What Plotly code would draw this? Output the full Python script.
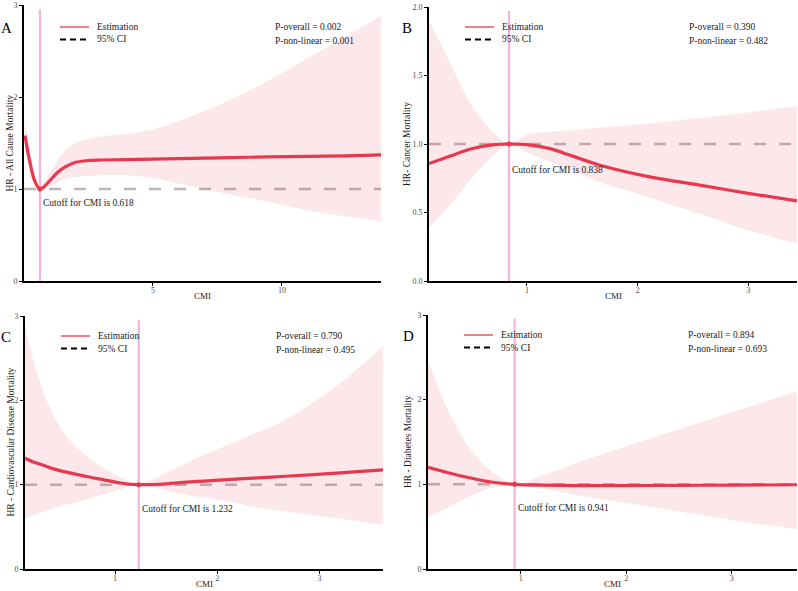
import plotly.graph_objects as go

FONT = "Liberation Serif, Times New Roman, DejaVu Serif, serif"

# ---------------- data ----------------
# Panel A: All cause mortality
a_x   = [0.04, 0.2, 0.4, 0.618, 0.8, 1.0, 1.3, 1.6, 2.0, 2.5, 3.0, 4.0, 5.0, 6.0, 7.0, 8.0, 9.5, 11.0, 12.5, 13.84]
a_est = [1.58, 1.33, 1.10, 1.00, 1.03, 1.09, 1.18, 1.24, 1.29, 1.31, 1.315, 1.32, 1.325, 1.33, 1.335, 1.34, 1.35, 1.355, 1.36, 1.37]
a_lo  = [1.42, 1.23, 1.05, 1.00, 1.00, 1.03, 1.08, 1.11, 1.13, 1.14, 1.15, 1.15, 1.12, 1.06, 1.00, 0.94, 0.86, 0.77, 0.70, 0.65]
a_hi  = [1.76, 1.45, 1.16, 1.00, 1.07, 1.17, 1.31, 1.42, 1.50, 1.54, 1.57, 1.60, 1.65, 1.74, 1.85, 1.97, 2.18, 2.42, 2.66, 2.88]

# Panel B: Cancer mortality
b_x   = [0.115, 0.3, 0.5, 0.7, 0.838, 1.0, 1.21, 1.4, 1.66, 2.11, 2.56, 3.0, 3.44]
b_est = [0.857, 0.91, 0.965, 0.995, 1.00, 0.995, 0.966, 0.915, 0.845, 0.76, 0.70, 0.64, 0.584]
b_lo  = [0.39, 0.55, 0.75, 0.92, 1.00, 0.94, 0.87, 0.81, 0.72, 0.61, 0.49, 0.37, 0.275]
b_hi  = [1.90, 1.60, 1.28, 1.08, 1.00, 1.07, 1.09, 1.10, 1.12, 1.15, 1.19, 1.23, 1.275]

# Panel C: Cardiovascular disease mortality
c_x   = [0.12, 0.2, 0.30, 0.39, 0.48, 0.56, 0.72, 0.88, 1.05, 1.232, 1.5, 1.7, 2.1, 2.35, 2.67, 3.2, 3.62]
c_est = [1.315, 1.27, 1.23, 1.19, 1.16, 1.14, 1.097, 1.06, 1.02, 1.00, 1.01, 1.03, 1.06, 1.078, 1.10, 1.14, 1.176]
c_lo  = [0.60, 0.64, 0.68, 0.72, 0.75, 0.77, 0.82, 0.88, 0.95, 1.00, 0.93, 0.88, 0.80, 0.74, 0.68, 0.60, 0.525]
c_hi  = [2.90, 2.48, 2.10, 1.84, 1.65, 1.52, 1.34, 1.20, 1.09, 1.00, 1.14, 1.26, 1.47, 1.60, 1.77, 2.20, 2.64]

# Panel D: Diabetes mortality
d_x   = [0.119, 0.3, 0.5, 0.7, 0.941, 1.2, 1.5, 2.0, 2.5, 3.0, 3.62]
d_est = [1.20, 1.14, 1.08, 1.03, 1.00, 0.99, 0.985, 0.985, 0.988, 0.99, 0.995]
d_lo  = [0.61, 0.72, 0.85, 0.95, 1.00, 0.95, 0.88, 0.78, 0.68, 0.58, 0.47]
d_hi  = [2.46, 1.90, 1.45, 1.18, 1.00, 1.10, 1.24, 1.45, 1.65, 1.85, 2.10]

cutoffs   = [0.618, 0.838, 1.232, 0.941]
p_overall = ["0.002", "0.390", "0.790", "0.894"]
p_nonlin  = ["0.001", "0.482", "0.495", "0.693"]
letters   = ["A", "B", "C", "D"]
y_titles  = ["HR - All Cause Mortality", "HR- Cancer Mortality",
             "HR - Cardiovascular Disease Mortality", "HR - Diabetes Mortality"]
x_title   = "CMI"
x_ranges  = [[0.0, 13.84], [0.115, 3.44], [0.12, 3.62], [0.119, 3.62]]
y_ranges  = [[0, 3], [0, 2], [0, 3], [0, 3]]
x_ticks   = [[5, 10], [1, 2, 3], [1, 2, 3], [1, 2, 3]]
y_ticks   = [[0, 1, 2, 3], [0.0, 0.5, 1.0, 1.5, 2.0], [0, 1, 2, 3], [0, 1, 2, 3]]
y_ticktext = [["0", "1", "2", "3"], ["0.0", "0.5", "1.0", "1.5", "2.0"],
              ["0", "1", "2", "3"], ["0", "1", "2", "3"]]
cut_label_y = [0.85, 0.81, 0.71, 0.72]

panels = [(a_x, a_est, a_lo, a_hi), (b_x, b_est, b_lo, b_hi),
          (c_x, c_est, c_lo, c_hi), (d_x, d_est, d_lo, d_hi)]

# ---------------- layout geometry (pixels) ----------------
W, H = 798, 591
boxes = [(24, 381, 5, 281), (429, 797, 7, 281), (25, 383, 316, 569), (428, 797, 315, 569)]
letter_x = [6, 407, 6, 408]       # centre
ytitle_x = [9.5, 407, 10, 408]    # centre of rotated title
legend_y = [27, 27, 336, 335]     # first legend row (centre)

RED = "#E8384F"
BAND = "rgba(232,56,79,0.12)"
PINK = "#F4B3D8"
GREY = "#BDB5B8"
TXT = "#1a1a1a"


def note(fig, xpx, ypx, text, size=9.5, xanchor="left", color=TXT, **kw):
    fig.add_annotation(x=xpx / W, y=1 - ypx / H, xref="paper", yref="paper",
                       xanchor=xanchor, yanchor=kw.pop("yanchor", "middle"),
                       text=text, showarrow=False, font=dict(family=FONT, size=size, color=color), **kw)


fig = go.Figure()
for i, (xs, est, lo, hi) in enumerate(panels):
    n = "" if i == 0 else str(i + 1)
    xa, ya = "x" + n, "y" + n
    fig.add_trace(go.Scatter(x=xs, y=hi, mode="lines", line=dict(width=0, shape="spline", smoothing=0.8),
                             xaxis=xa, yaxis=ya, showlegend=False, hoverinfo="skip"))
    fig.add_trace(go.Scatter(x=xs, y=lo, mode="lines", line=dict(width=0, shape="spline", smoothing=0.8),
                             fill="tonexty", fillcolor=BAND,
                             xaxis=xa, yaxis=ya, showlegend=False, hoverinfo="skip"))
    fig.add_trace(go.Scatter(x=xs, y=est, mode="lines", line=dict(color=RED, width=3.2, shape="spline", smoothing=0.8),
                             xaxis=xa, yaxis=ya, showlegend=False))
    fig.add_trace(go.Scatter(x=[cutoffs[i]], y=[1], mode="markers", marker=dict(color=RED, size=5),
                             xaxis=xa, yaxis=ya, showlegend=False))

    l, r, t, b = boxes[i]
    axis_common = dict(showline=True, linewidth=2, linecolor="black",
                       ticks="outside", ticklen=3, tickwidth=1, tickcolor="black",
                       showgrid=False, zeroline=False, automargin=False,
                       tickfont=dict(family=FONT, size=8, color="#4D4D4D"))
    fig.update_layout(**{
        "xaxis" + n: dict(domain=[l / W, r / W], range=x_ranges[i], anchor=ya,
                          tickvals=x_ticks[i], ticklabelstandoff=-3, **axis_common),
        "yaxis" + n: dict(domain=[1 - b / H, 1 - t / H], range=y_ranges[i], anchor=xa,
                          tickvals=y_ticks[i], ticktext=y_ticktext[i], **axis_common),
    })

    # reference line at HR = 1
    fig.add_shape(type="line", xref=xa + " domain", yref=ya, x0=0, x1=1, y0=1, y1=1,
                  line=dict(color=GREY, width=2.5, dash="12px,13px"), layer="below")
    # cutoff line
    fig.add_shape(type="line", xref=xa, yref=ya + " domain", x0=cutoffs[i], x1=cutoffs[i], y0=0, y1=0.985,
                  line=dict(color=PINK, width=2.2), layer="below")
    fig.add_annotation(x=cutoffs[i], y=cut_label_y[i], xref=xa, yref=ya, xanchor="left", yanchor="middle",
                       xshift=1, text="Cutoff for CMI is %.3f" % cutoffs[i], showarrow=False,
                       font=dict(family=FONT, size=9.5, color=TXT))

    # legend (drawn)
    lx0 = l + 36
    ly1 = legend_y[i]
    ly2 = ly1 + 12.5
    fig.add_shape(type="line", xref="paper", yref="paper", x0=lx0 / W, x1=(lx0 + 29) / W,
                  y0=1 - ly1 / H, y1=1 - ly1 / H, line=dict(color=RED, width=1.3))
    fig.add_shape(type="line", xref="paper", yref="paper", x0=lx0 / W, x1=(lx0 + 29) / W,
                  y0=1 - ly2 / H, y1=1 - ly2 / H, line=dict(color="black", width=1.8, dash="6px,4px"))
    note(fig, lx0 + 35, ly1, "Estimation")
    note(fig, lx0 + 35, ly2, "95% CI")

    # p-values
    px = l + 249 if i % 2 == 0 else l + 258
    note(fig, px, ly1, "P-overall = " + p_overall[i])
    note(fig, px, ly1 + 13.5, "P-non-linear = " + p_nonlin[i])

    # panel letter
    note(fig, letter_x[i], ly1 + 1, letters[i], size=15, xanchor="center", color="black")
    # axis titles
    note(fig, (l + r) / 2, b + 15, x_title, size=9, xanchor="center")
    note(fig, ytitle_x[i], (t + b) / 2, y_titles[i], xanchor="center", textangle=-90)

fig.update_layout(width=W, height=H, margin=dict(l=0, r=0, t=0, b=0, autoexpand=False),
                  plot_bgcolor="white", paper_bgcolor="white", showlegend=False,
                  font=dict(family=FONT))
fig.write_html("out.html", config={"displayModeBar": False},
               post_script="document.body.style.margin='0px';document.body.style.overflow='hidden';")
